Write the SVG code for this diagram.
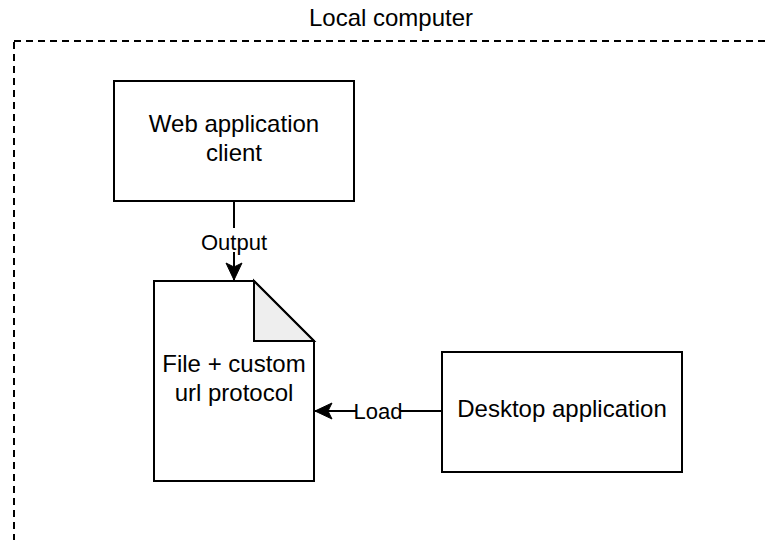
<svg xmlns="http://www.w3.org/2000/svg" width="765" height="540" viewBox="0 0 765 540">
<style>
.box{fill:#ffffff;stroke:#000000;stroke-width:2}
.t{font-family:"Liberation Sans",Arial,sans-serif;font-size:24px;fill:#000000;text-anchor:middle}
.lbl{font-family:"Liberation Sans",Arial,sans-serif;font-size:22px;fill:#000000;text-anchor:middle}
.edge{fill:none;stroke:#000000;stroke-width:2}
</style>
<defs>
<marker id="arr" viewBox="0 0 20 20" refX="18" refY="10" markerWidth="20" markerHeight="20" markerUnits="userSpaceOnUse" orient="auto">
<path d="M18,10 L1,2 L5,10 L1,18 Z" fill="#000000" stroke="#000000" stroke-width="1"/>
</marker>
</defs>
<rect width="765" height="540" fill="#ffffff"/>
<g id="local-computer">
<rect x="14" y="41" width="800" height="560" fill="none" stroke="#000000" stroke-width="2" stroke-dasharray="7 5"/>
<text class="t" x="391" y="26">Local computer</text>
</g>
<g id="web-client">
<rect class="box" x="114" y="81" width="240" height="120"/>
<text class="t" x="234" y="132">Web application</text>
<text class="t" x="234" y="161">client</text>
</g>
<g id="file-note">
<path class="box" d="M154,281 H254 L314,341 V481 H154 Z"/>
<path d="M254,281 V341 H314 Z" fill="#eeeeee" stroke="#000000" stroke-width="2" stroke-linejoin="miter"/>
<text class="t" x="234" y="372">File + custom</text>
<text class="t" x="234" y="401">url protocol</text>
</g>
<g id="desktop-app">
<rect class="box" x="442" y="352" width="240" height="120"/>
<text class="t" x="562" y="417">Desktop application</text>
</g>
<g id="connectors">
<path class="edge" d="M234,201 V280" marker-end="url(#arr)"/>
<rect x="200" y="228" width="68" height="24" fill="#ffffff"/>
<text class="lbl" x="234" y="250">Output</text>
<path class="edge" d="M442,411 H315" marker-end="url(#arr)"/>
<rect x="356" y="399" width="44" height="24" fill="#ffffff"/>
<text class="lbl" x="378" y="419">Load</text>
</g>
</svg>
